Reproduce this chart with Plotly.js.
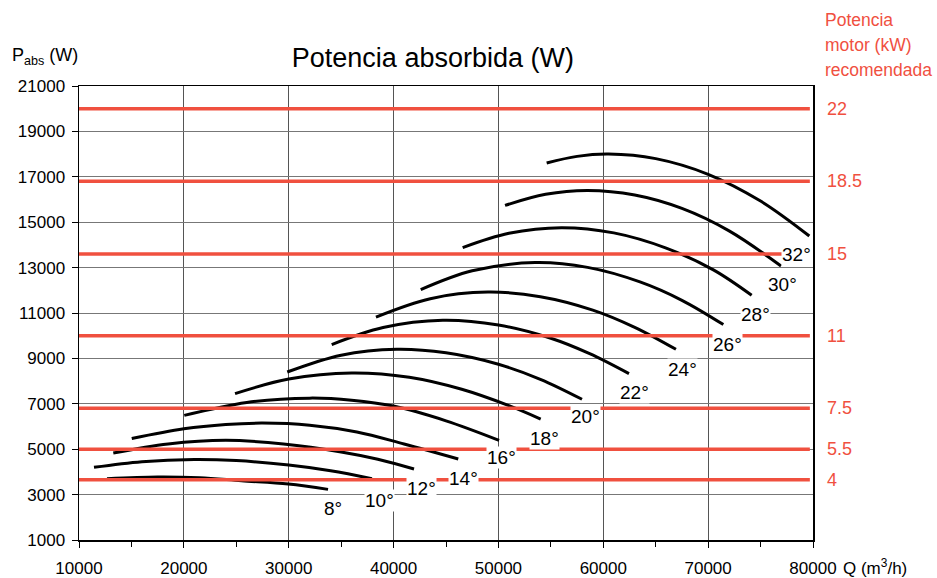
<!DOCTYPE html>
<html>
<head>
<meta charset="utf-8">
<script src="https://cdn.plot.ly/plotly-3.0.1.min.js"></script>
<style>html,body{margin:0;padding:0;background:#fff;}#chart{width:937px;height:578px;}</style>
</head>
<body>
<div id="chart"></div>
<script>
// Curve data: Q (m3/h) and absorbed power P (W) per blade angle
const angles = ['8°','10°','12°','14°','16°','18°','20°','22°','24°','26°','28°','30°','32°'];
const q08 = [12670, 17500, 21500, 25500, 29960, 33750];
const p08 = [3700, 3775, 3740, 3610, 3470, 3230];
const q10 = [11430, 16000, 21000, 25000, 30000, 34000, 37940];
const p10 = [4200, 4450, 4550, 4500, 4300, 4050, 3700];
const q12 = [13270, 18500, 24000, 29500, 35000, 38500, 41950];
const p12 = [4830, 5230, 5390, 5230, 4880, 4560, 4130];
const q14 = [15030, 20000, 24000, 27500, 32000, 36500, 41000, 46170];
const p14 = [5470, 5900, 6090, 6150, 6060, 5760, 5230, 4570];
const q16 = [20040, 26000, 32000, 36000, 40000, 45000, 50060];
const p16 = [6490, 7060, 7250, 7160, 6900, 6250, 5390];
const q18 = [24880, 30000, 36000, 41500, 46500, 51000, 54030];
const p18 = [7450, 8090, 8360, 8170, 7640, 6920, 6330];
const q20 = [29860, 35000, 40300, 45000, 50000, 54000, 57970];
const p20 = [8400, 9140, 9400, 9245, 8740, 8080, 7200];
const q22 = [34100, 39000, 44700, 50000, 55000, 58700, 62450];
const p22 = [9610, 10360, 10680, 10470, 9890, 9210, 8330];
const q24 = [38320, 43500, 49000, 54000, 59000, 63000, 66930];
const p24 = [10820, 11630, 11920, 11720, 11130, 10370, 9400];
const q26 = [42590, 47500, 53500, 58500, 63500, 67500, 71450];
const p26 = [12030, 12860, 13220, 13010, 12370, 11560, 10490];
const q28 = [46590, 51000, 56000, 61000, 66000, 70500, 74150];
const p28 = [13880, 14510, 14760, 14530, 13860, 12900, 11780];
const q30 = [50630, 54500, 58500, 63000, 67500, 72000, 76950];
const p30 = [15740, 16230, 16400, 16200, 15610, 14620, 13070];
const q32 = [54600, 57500, 60500, 65000, 70000, 75000, 79650];
const p32 = [17610, 17900, 18000, 17800, 17110, 15930, 14390];

// Curve label positions
const labelQ = [34220, 38700, 42680, 46650, 50310, 54440, 58260, 62930, 67570, 71830, 74500, 77050, 78450];
const labelP = [2400, 2750, 3260, 3700, 4630, 5470, 6420, 7480, 8510, 9620, 10940, 12260, 13570];

// Recommended motor power lines
const motorKW = ['22', '18.5', '15', '11', '7.5', '5.5', '4'];
const motorP = [20000, 16800, 13600, 10000, 6800, 5000, 3650];
const motorQ = [10000, 79700];

const xTicks = [10000, 20000, 30000, 40000, 50000, 60000, 70000, 80000];
const yTicks = [1000, 3000, 5000, 7000, 9000, 11000, 13000, 15000, 17000, 19000, 21000];

const RED = '#F0503F';
const FONT = 'Liberation Sans, Arial, sans-serif';

const qs = [q08,q10,q12,q14,q16,q18,q20,q22,q24,q26,q28,q30,q32];
const ps = [p08,p10,p12,p14,p16,p18,p20,p22,p24,p26,p28,p30,p32];

const traces = [];
qs.forEach((q, i) => {
  traces.push({x: q, y: ps[i], type: 'scatter', mode: 'lines', name: angles[i],
    line: {color: '#000', width: 3, shape: 'spline', smoothing: 1}, hoverinfo: 'skip'});
});
motorP.forEach((p, i) => {
  traces.push({x: motorQ, y: [p, p], type: 'scatter', mode: 'lines', name: motorKW[i] + ' kW',
    line: {color: RED, width: 3.5}, hoverinfo: 'skip'});
});

const annotations = [];
angles.forEach((t, i) => {
  annotations.push({x: labelQ[i], y: labelP[i], xref: 'x', yref: 'y', text: t, showarrow: false,
    font: {family: FONT, size: 19, color: '#000'}, bgcolor: '#fff', borderpad: 0});
});
motorKW.forEach((t, i) => {
  annotations.push({x: 1.017, y: motorP[i], xref: 'paper', yref: 'y', text: t, showarrow: false,
    xanchor: 'left', yanchor: 'middle', font: {family: FONT, size: 18, color: RED}});
});
const rt = ['Potencia', 'motor (kW)', 'recomendada'];
const rtY = [1.145, 1.090, 1.035];
rt.forEach((t, i) => {
  annotations.push({x: 1.013, y: rtY[i], xref: 'paper', yref: 'paper', text: t, showarrow: false,
    xanchor: 'left', yanchor: 'middle', font: {family: FONT, size: 17.5, color: RED}});
});
annotations.push({x: -0.094, y: 1.064, xref: 'paper', yref: 'paper', text: 'P<sub>abs</sub> (W)',
  showarrow: false, xanchor: 'left', yanchor: 'middle', font: {family: FONT, size: 18, color: '#000'}});
annotations.push({x: 1.038, y: -0.06, xref: 'paper', yref: 'paper', text: 'Q (m<sup>3</sup>/h)',
  showarrow: false, xanchor: 'left', yanchor: 'middle', font: {family: FONT, size: 17, color: '#000'}});

const layout = {
  width: 937, height: 578,
  margin: {l: 79, r: 124, t: 86, b: 38},
  paper_bgcolor: '#fff', plot_bgcolor: '#fff',
  showlegend: false,
  font: {family: FONT, size: 17, color: '#000'},
  title: {text: 'Potencia absorbida (W)', x: 0.462, xref: 'container', y: 0.9, yref: 'container',
    xanchor: 'center', yanchor: 'middle', font: {family: FONT, size: 27, color: '#000'}},
  xaxis: {range: [10000, 80000], tickvals: xTicks, tickformat: 'd', showgrid: true,
    gridcolor: '#555', gridwidth: 1, showline: true, linecolor: '#000', linewidth: 1.5, mirror: true,
    ticks: 'outside', ticklen: 6, tickcolor: '#000', ticklabelstandoff: 6, zeroline: false,
    minor: {dtick: 5000, tick0: 0, ticks: 'outside', ticklen: 5, tickcolor: '#000', showgrid: false},
    tickfont: {family: FONT, size: 17}},
  yaxis: {range: [1000, 21000], tickvals: yTicks, tickformat: 'd', showgrid: true,
    gridcolor: '#777', gridwidth: 1, showline: true, linecolor: '#000', linewidth: 1.5, mirror: true,
    ticks: 'outside', ticklen: 6, tickcolor: '#000', ticklabelstandoff: 3, zeroline: false,
    tickfont: {family: FONT, size: 17}},
  annotations: annotations
};

Plotly.newPlot('chart', traces, layout, {staticPlot: true});
</script>
</body>
</html>
